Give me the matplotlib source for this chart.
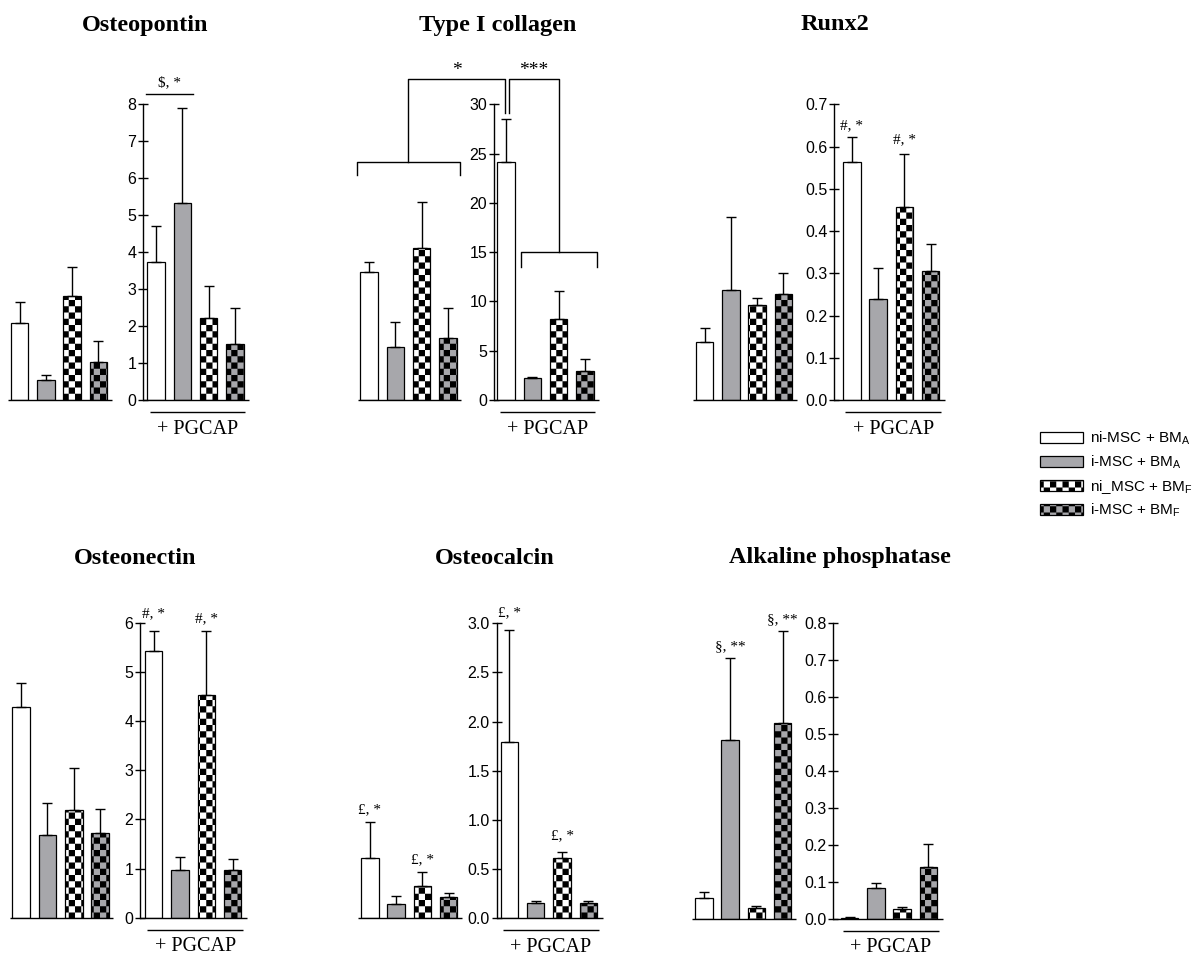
import numpy as np
import matplotlib
matplotlib.use("Agg")
import matplotlib.pyplot as plt
from matplotlib import hatch as mhatch
from matplotlib.path import Path
from matplotlib.patches import Patch
from matplotlib.ticker import FormatStrFormatter

# ---------------- data ----------------
panel_titles = ["Osteopontin", "Type I collagen", "Runx2",
                "Osteonectin", "Osteocalcin", "Alkaline phosphatase"]
group_labels = ["ni-MSC + BM$_\\mathrm{A}$", "i-MSC + BM$_\\mathrm{A}$",
                "ni_MSC + BM$_\\mathrm{F}$", "i-MSC + BM$_\\mathrm{F}$"]
pgcap_label = "+ PGCAP"

# means and upper error bars, without PGCAP (ctrl) and with PGCAP
opn_ctrl = [2.07, 0.54, 2.81, 1.04]
opn_ctrl_err = [0.59, 0.14, 0.78, 0.56]
opn_pgcap = [3.72, 5.32, 2.21, 1.51]
opn_pgcap_err = [1.00, 2.57, 0.87, 0.97]

col_ctrl = [13.0, 5.4, 15.45, 6.3]
col_ctrl_err = [1.0, 2.55, 4.6, 3.0]
col_pgcap = [24.1, 2.27, 8.2, 2.94]
col_pgcap_err = [4.4, 0.05, 2.85, 1.2]

runx_ctrl = [0.138, 0.260, 0.225, 0.251]
runx_ctrl_err = [0.033, 0.174, 0.017, 0.050]
runx_pgcap = [0.563, 0.238, 0.458, 0.306]
runx_pgcap_err = [0.059, 0.075, 0.124, 0.063]

on_ctrl = [4.28, 1.69, 2.20, 1.72]
on_ctrl_err = [0.49, 0.64, 0.85, 0.50]
on_pgcap = [5.42, 0.97, 4.52, 0.97]
on_pgcap_err = [0.41, 0.27, 1.31, 0.22]

oc_ctrl = [0.617, 0.146, 0.332, 0.220]
oc_ctrl_err = [0.359, 0.081, 0.136, 0.041]
oc_pgcap = [1.797, 0.153, 0.610, 0.153]
oc_pgcap_err = [1.133, 0.023, 0.068, 0.027]

alp_ctrl = [0.058, 0.484, 0.029, 0.529]
alp_ctrl_err = [0.016, 0.221, 0.005, 0.250]
alp_pgcap = [0.004, 0.083, 0.026, 0.142]
alp_pgcap_err = [0.002, 0.014, 0.007, 0.060]

y_max = [8, 30, 0.7, 6, 3.0, 0.8]
y_step = [1, 5, 0.1, 1, 0.5, 0.1]
y_fmt = ["%d", "%d", "%.1f", "%d", "%.1f", "%.1f"]

# significance labels above single bars: (group, bar index, text, gap px)
marks = {
    2: [("pgcap", 0, "#, *", 12), ("pgcap", 2, "#, *", 14)],
    3: [("pgcap", 0, "#, *", 17), ("pgcap", 2, "#, *", 12)],
    4: [("ctrl", 0, "£, *", 13), ("ctrl", 2, "£, *", 13),
        ("pgcap", 0, "£, *", 17), ("pgcap", 2, "£, *", 16)],
    5: [("ctrl", 1, "§, **", 12), ("ctrl", 3, "§, **", 11)],
}

# ---------------- style / layout ----------------
W, H, DPI = 1200, 968, 100
GRAY = "#a7a7ab"
faces = ["white", GRAY, "white", GRAY]
hatches = [None, None, "x", "x"]
SP = 26.3          # px per bar slot
BW = 0.665         # bar width in slots
XMIN, XMAX = -0.7, 9.4

layout = [
    dict(cx0=19.5, axis=4.71, rb1=5.19, y0=400.0, ytop=104.3, tx=145, ty=25),
    dict(cx0=369.0, axis=4.76, rb1=5.21, y0=400.0, ytop=104.3, tx=498, ty=25),
    dict(cx0=704.5, axis=4.94, rb1=5.60, y0=400.0, ytop=104.3, tx=835, ty=25),
    dict(cx0=21.2, axis=4.53, rb1=5.04, y0=917.7, ytop=622.7, tx=135, ty=558),
    dict(cx0=369.8, axis=4.83, rb1=5.31, y0=918.3, ytop=623.3, tx=495, ty=558),
    dict(cx0=703.8, axis=4.93, rb1=5.54, y0=919.0, ytop=623.3, tx=840, ty=558),
]

plt.rcParams["font.family"] = "Liberation Sans"
plt.rcParams["mathtext.fontset"] = "custom"
plt.rcParams["mathtext.rm"] = "Liberation Sans"
plt.rcParams["mathtext.it"] = "Liberation Sans:italic"
plt.rcParams["hatch.linewidth"] = 0.01
plt.rcParams["hatch.color"] = "black"


# checkerboard hatch
class CheckerHatch(mhatch.HatchPatternBase):
    filled = True
    N = 16

    def __init__(self, hatch, density):
        on = hatch.count("x") > 0
        self.num_vertices = (self.N * self.N // 2) * 5 if on else 0

    def set_vertices_and_codes(self, vertices, codes):
        n = self.N
        s = 1.0 / n
        k = 0
        for i in range(n):
            for j in range(n):
                if (i + j) % 2 == 0:
                    x0, y0 = i * s, j * s
                    vertices[k:k + 5] = [[x0, y0], [x0 + s, y0], [x0 + s, y0 + s],
                                         [x0, y0 + s], [x0, y0]]
                    codes[k:k + 5] = [Path.MOVETO, Path.LINETO, Path.LINETO,
                                      Path.LINETO, Path.CLOSEPOLY]
                    k += 5


mhatch._hatch_types[:] = [CheckerHatch]

data = [
    (opn_ctrl, opn_ctrl_err, opn_pgcap, opn_pgcap_err),
    (col_ctrl, col_ctrl_err, col_pgcap, col_pgcap_err),
    (runx_ctrl, runx_ctrl_err, runx_pgcap, runx_pgcap_err),
    (on_ctrl, on_ctrl_err, on_pgcap, on_pgcap_err),
    (oc_ctrl, oc_ctrl_err, oc_pgcap, oc_pgcap_err),
    (alp_ctrl, alp_ctrl_err, alp_pgcap, alp_pgcap_err),
]

fig = plt.figure(figsize=(W / DPI, H / DPI), dpi=DPI)
serif = "Liberation Serif"

for k in range(6):
    L = layout[k]
    ctrl, ctrl_e, pg, pg_e = [np.asarray(v, float) for v in data[k]]
    left_px = L["cx0"] + XMIN * SP
    width_px = (XMAX - XMIN) * SP
    ax = fig.add_axes([left_px / W, 1 - L["y0"] / H, width_px / W,
                       (L["y0"] - L["ytop"]) / H])
    ax.set_xlim(XMIN, XMAX)
    ax.set_ylim(0, y_max[k])
    ax.patch.set_visible(False)
    dpp = y_max[k] / (L["y0"] - L["ytop"])  # data units per pixel

    xc = np.arange(4, dtype=float)
    xp = L["rb1"] + np.arange(4, dtype=float)
    for xs, vals, errs in ((xc, ctrl, ctrl_e), (xp, pg, pg_e)):
        bars = ax.bar(xs, vals, width=BW, color=faces, edgecolor="black",
                      linewidth=0.9, zorder=2)
        for b, h in zip(bars, hatches):
            b.set_hatch(h)
        ax.errorbar(xs, vals, yerr=[np.zeros(4), errs], fmt="none",
                    ecolor="black", elinewidth=1.0, capsize=3.6, capthick=1.0,
                    zorder=3)

    # baselines
    ax.plot([xc[0] - 0.43, xc[-1] + 0.5], [0, 0], color="black", lw=1.0,
            clip_on=False, solid_capstyle="butt", zorder=4)
    ax.plot([L["axis"], xp[-1] + 0.55], [0, 0], color="black", lw=1.0,
            clip_on=False, solid_capstyle="butt", zorder=4)

    for s in ("top", "right", "bottom"):
        ax.spines[s].set_visible(False)
    ax.spines["left"].set_position(("data", L["axis"]))
    ax.spines["left"].set_bounds(0, y_max[k])
    ax.spines["left"].set_linewidth(1.0)
    ax.set_xticks([])
    ax.set_yticks(np.arange(0, y_max[k] + y_step[k] / 2, y_step[k]))
    ax.yaxis.set_major_formatter(FormatStrFormatter(y_fmt[k]))
    ax.tick_params(axis="y", direction="inout", length=7.2, width=1.0,
                   pad=1.5, labelsize=11.5)

    # + PGCAP underline
    x_a, x_b = xp[0] - 0.24, xp[-1] + 0.39
    ax.plot([x_a, x_b], [-12 * dpp, -12 * dpp], color="black", lw=1.0,
            clip_on=False, solid_capstyle="butt")
    ax.text((x_a + x_b) / 2, -29 * dpp, pgcap_label, ha="center", va="center",
            fontsize=14.5, family=serif)

    # title
    fig.text(L["tx"] / W, 1 - L["ty"] / H, panel_titles[k], ha="center",
             va="center", fontsize=17.5, fontweight="bold", family=serif)

    # single-bar significance labels
    for grp, i, txt, gap in marks.get(k, []):
        if grp == "ctrl":
            x, top = xc[i], ctrl[i] + ctrl_e[i]
        else:
            x, top = xp[i], pg[i] + pg_e[i]
        ax.text(x, top + gap * dpp, txt, ha="center", va="center",
                fontsize=11, family=serif, clip_on=False)

    if k == 0:
        ya = 8 + 10 * dpp
        ax.plot([xp[0] - 0.38, xp[1] + 0.41], [ya, ya], color="black", lw=1.0,
                clip_on=False)
        ax.text((xp[0] + xp[1]) / 2, ya + 12 * dpp, r"\$, *", ha="center",
                va="center", fontsize=11, family=serif)

    if k == 1:
        lw = 1.0
        top_y = y_max[k] + 25 * dpp
        # left bracket over untreated group
        yl = 24.1
        ax.plot([xc[0] - 0.46, xc[0] - 0.46, xc[-1] + 0.46, xc[-1] + 0.46],
                [yl - 13 * dpp, yl, yl, yl - 13 * dpp], color="black", lw=lw,
                clip_on=False)
        xs_l = xc.mean()
        xd = xp[0] - 0.03
        ax.plot([xs_l, xs_l, xd, xd], [yl, top_y, top_y, pg[0] + pg_e[0] + 0.6],
                color="black", lw=lw, clip_on=False)
        ax.text((xs_l + xd) / 2, top_y + 9 * dpp, "*", ha="center",
                va="center", fontsize=14, family=serif)
        # right bracket over PGCAP others
        yr = 15.0
        xd2 = xp[0] + 0.11
        xs_r = xp[1:].mean()
        ax.plot([xd2, xd2, xs_r, xs_r], [pg[0] + pg_e[0] + 0.6, top_y, top_y, yr],
                color="black", lw=lw, clip_on=False)
        ax.plot([xp[1] - 0.43, xp[1] - 0.43, xp[-1] + 0.46, xp[-1] + 0.46],
                [yr - 15 * dpp, yr, yr, yr - 15 * dpp], color="black", lw=lw,
                clip_on=False)
        ax.text((xd2 + xs_r) / 2, top_y + 9 * dpp, "***", ha="center",
                va="center", fontsize=14, family=serif)

handles = [Patch(facecolor=f, edgecolor="black", hatch=h, linewidth=0.9)
           for f, h in zip(faces, hatches)]
fig.legend(handles, group_labels, loc="upper left",
           bbox_to_anchor=(1040 / W, 1 - 430 / H), frameon=False,
           borderpad=0, borderaxespad=0, handlelength=2.8, handleheight=0.72,
           handletextpad=0.5, labelspacing=0.42,
           prop=dict(family="Liberation Sans", size=11))

fig.savefig("out.png", dpi=DPI)
